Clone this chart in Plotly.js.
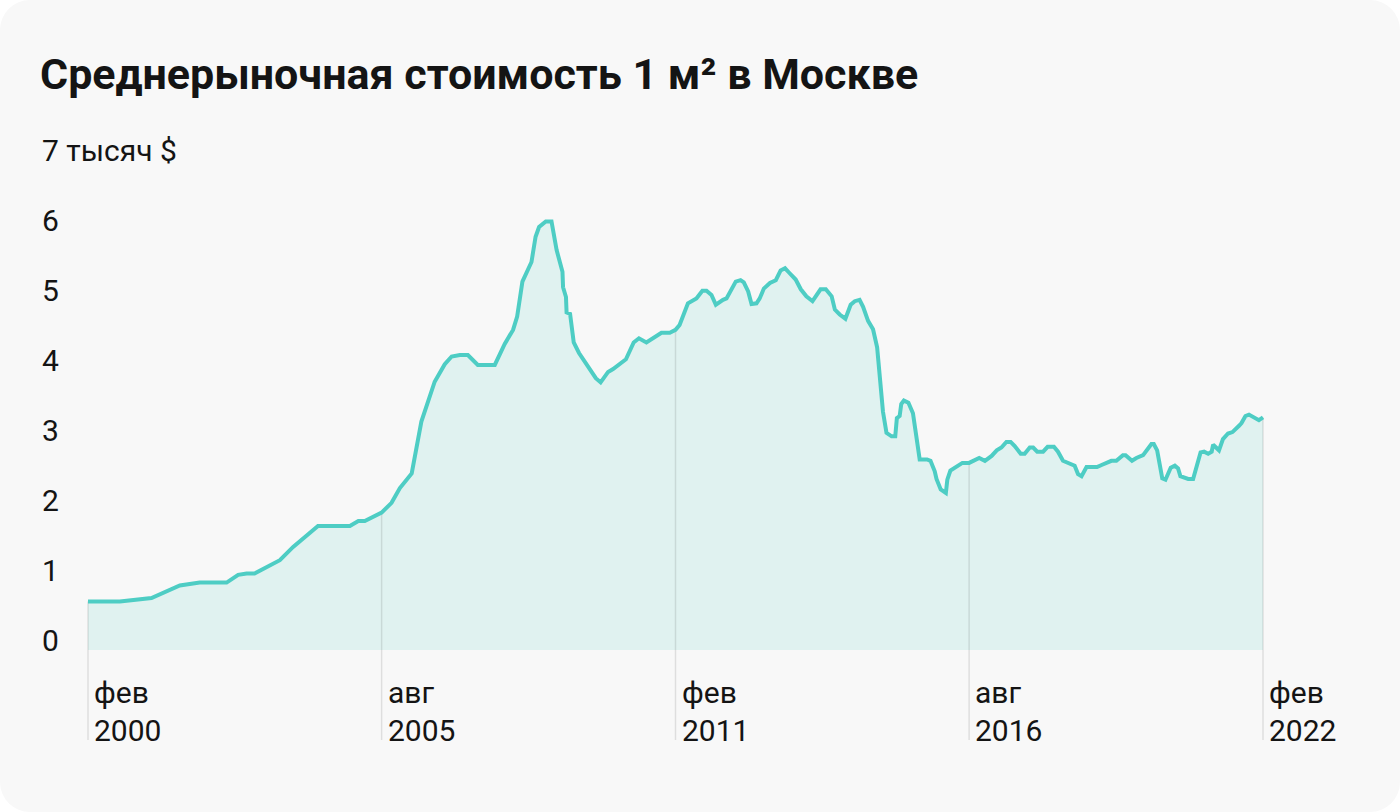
<!DOCTYPE html>
<html>
<head>
<meta charset="utf-8">
<script src="https://cdn.plot.ly/plotly-3.0.1.min.js"></script>
<style>
  html, body { margin: 0; padding: 0; background: #ffffff; }
  #card { width: 1400px; height: 812px; border-radius: 30px; overflow: hidden; background: #f8f8f8; }
  #chart { width: 1400px; height: 812px; }
</style>
</head>
<body>
<div id="card"><div id="chart"></div></div>
<script>
// ---- Data ----
const dates = [
  '2000-02-01','2000-09-06','2001-04-10','2001-10-21','2002-03-06','2002-09-06','2002-11-24','2003-01-21','2003-03-16','2003-09-05',
  '2003-12-05','2004-05-23','2004-12-27','2005-02-23','2005-04-08','2005-08-01','2005-10-08','2005-12-04','2006-02-23','2006-04-30',
  '2006-07-30','2006-10-07','2006-11-23','2007-01-18','2007-03-14','2007-05-21','2007-09-14','2007-11-21','2008-01-17','2008-02-14',
  '2008-03-21','2008-05-22','2008-06-19','2008-07-13','2008-08-28','2008-10-06','2008-11-10','2008-12-20','2008-12-24','2009-01-13',
  '2009-01-17','2009-02-10','2009-03-07','2009-04-12','2009-08-05','2009-09-07','2009-10-28','2009-12-01','2010-02-27','2010-04-21',
  '2010-05-27','2010-07-17','2010-10-28','2010-12-24','2011-02-01','2011-03-01','2011-04-27','2011-06-24','2011-08-04','2011-09-01',
  '2011-10-05','2011-11-04','2011-12-23','2012-01-16','2012-03-19','2012-04-21','2012-05-13','2012-06-12','2012-07-05','2012-08-08',
  '2012-08-30','2012-09-27','2012-11-08','2012-12-18','2013-01-20','2013-02-19','2013-03-18','2013-05-03','2013-06-07','2013-07-15',
  '2013-08-26','2013-10-20','2013-11-25','2014-01-04','2014-01-26','2014-02-28','2014-04-08','2014-05-14','2014-06-11','2014-07-14',
  '2014-08-07','2014-08-25','2014-09-10','2014-10-14','2014-11-11','2014-12-21','2015-01-14','2015-02-18','2015-03-15','2015-03-26',
  '2015-04-14','2015-04-25','2015-05-13','2015-06-13','2015-07-14','2015-08-29','2015-10-18','2015-11-11','2015-12-10','2015-12-22',
  '2016-01-20','2016-02-24','2016-03-05','2016-03-26','2016-06-16','2016-08-01','2016-10-09','2016-11-17','2017-01-02','2017-02-06',
  '2017-03-10','2017-04-13','2017-05-12','2017-06-09','2017-07-20','2017-08-16','2017-09-20','2017-10-13','2017-11-10','2017-12-20',
  '2018-01-20','2018-03-04','2018-04-01','2018-05-05','2018-07-24','2018-08-16','2018-09-09','2018-10-13','2018-12-24','2019-01-24',
  '2019-04-01','2019-05-05','2019-06-19','2019-07-07','2019-08-20','2019-09-19','2019-11-04','2019-12-31','2020-01-16','2020-02-08',
  '2020-03-14','2020-04-05','2020-05-11','2020-06-08','2020-06-30','2020-07-16','2020-09-07','2020-10-11','2020-12-01','2020-12-25',
  '2021-01-22','2021-02-15','2021-02-25','2021-04-06','2021-05-03','2021-06-07','2021-07-07','2021-08-21','2021-09-07','2021-10-04',
  '2021-10-28','2022-01-04','2022-02-01'
];
const values = [
  0.55,0.55,0.60,0.78,0.82,0.82,0.93,0.95,0.95,1.14,
  1.33,1.63,1.63,1.70,1.70,1.82,1.96,2.17,2.38,3.12,
  3.69,3.94,4.05,4.07,4.07,3.93,3.93,4.23,4.43,4.62,
  5.12,5.40,5.76,5.90,5.98,5.98,5.57,5.26,5.04,4.90,
  4.68,4.66,4.25,4.10,3.74,3.68,3.83,3.87,4.01,4.25,
  4.31,4.25,4.39,4.39,4.43,4.50,4.81,4.88,4.99,4.99,
  4.93,4.79,4.86,4.88,5.12,5.14,5.11,4.98,4.80,4.81,
  4.88,5.02,5.10,5.14,5.28,5.31,5.25,5.15,5.01,4.91,
  4.84,5.01,5.01,4.91,4.72,4.65,4.59,4.79,4.84,4.86,
  4.76,4.63,4.56,4.44,4.18,3.26,2.96,2.91,2.91,3.17,
  3.20,3.37,3.42,3.39,3.24,2.58,2.58,2.56,2.41,2.30,
  2.15,2.10,2.29,2.42,2.53,2.53,2.60,2.56,2.63,2.71,
  2.75,2.83,2.83,2.77,2.66,2.66,2.75,2.75,2.69,2.69,
  2.76,2.76,2.69,2.56,2.49,2.37,2.34,2.47,2.47,2.50,
  2.56,2.56,2.64,2.64,2.56,2.60,2.64,2.80,2.80,2.71,
  2.31,2.29,2.46,2.49,2.45,2.34,2.30,2.30,2.68,2.69,
  2.66,2.69,2.79,2.71,2.87,2.95,2.97,3.06,3.10,3.20,
  3.22,3.14,3.18
];
const tickDates  = ['2000-02-01','2005-08-01','2011-02-01','2016-08-01','2022-02-01'];
const tickMonths = ['фев','авг','фев','авг','фев'];
const tickYears  = ['2000','2005','2011','2016','2022'];
const yTickVals  = [0,1,2,3,4,5,6,7];
const yTickText  = ['0','1','2','3','4','5','6','7 тысяч $'];
const titleText  = 'Среднерыночная стоимость 1 м² в Москве';

// ---- Layout geometry (pixels) ----
const W = 1400, H = 812;
const M_TOP = 100, M_BOT = 50;
const X_ANCHOR_PX = [88, 1263];          // pixel positions of first/last tick dates
const Y_ZERO_PX = 640, PX_PER_UNIT = 70;  // y scale
const FILL_BASE = -10 / PX_PER_UNIT;      // area bottom sits 10px below zero
const DROP_BASE = -100 / PX_PER_UNIT;     // drop lines reach below the labels
const LABEL_X_PX = 40;
const LABEL_ROW1_PX = 692, LABEL_ROW2_PX = 730;

const t0 = Date.parse(tickDates[0] + 'T00:00:00Z');
const t1 = Date.parse(tickDates[tickDates.length - 1] + 'T00:00:00Z');
const msPerPx = (t1 - t0) / (X_ANCHOR_PX[1] - X_ANCHOR_PX[0]);
const xr0 = new Date(t0 - X_ANCHOR_PX[0] * msPerPx).toISOString();
const xr1 = new Date(t0 + (W - X_ANCHOR_PX[0]) * msPerPx).toISOString();
const yTop = (Y_ZERO_PX - M_TOP) / PX_PER_UNIT;
const yBot = (Y_ZERO_PX - (H - M_BOT)) / PX_PER_UNIT;
const plotH = H - M_TOP - M_BOT;

const LINE = '#4ecdc4';
const FILL = '#e0f2f0';
const DROP = 'rgba(0,0,0,0.10)';
const TEXT = '#141414';
const FONT = 'Roboto, "Noto Sans", sans-serif';
const LABEL_SIZE = 30;

const traces = [];
// baseline for the area
traces.push({
  x: dates, y: dates.map(() => FILL_BASE), type: 'scatter', mode: 'lines',
  line: {width: 0, color: 'rgba(0,0,0,0)'}, hoverinfo: 'skip', showlegend: false
});
// area
traces.push({
  x: dates, y: values, type: 'scatter', mode: 'lines', fill: 'tonexty',
  fillcolor: FILL, line: {width: 0, color: 'rgba(0,0,0,0)'}, hoverinfo: 'skip', showlegend: false
});
// drop lines at tick dates
tickDates.forEach(d => {
  const v = values[dates.indexOf(d)];
  traces.push({
    x: [d, d], y: [v, DROP_BASE], type: 'scatter', mode: 'lines',
    line: {width: 1.5, color: DROP}, hoverinfo: 'skip', showlegend: false
  });
});
// main line
traces.push({
  x: dates, y: values, type: 'scatter', mode: 'lines',
  line: {width: 4, color: LINE, shape: 'linear'}, showlegend: false,
  hovertemplate: '%{x|%b %Y}: %{y:.2f}<extra></extra>'
});

const annotations = [];
yTickVals.forEach((v, i) => {
  annotations.push({
    xref: 'paper', yref: 'y', x: LABEL_X_PX / W, y: v, xanchor: 'left', yanchor: 'middle',
    text: yTickText[i], showarrow: false, font: {family: FONT, size: LABEL_SIZE, color: TEXT}
  });
});
tickDates.forEach((d, i) => {
  annotations.push({
    xref: 'x', yref: 'paper', x: d, y: (H - M_BOT - LABEL_ROW1_PX) / plotH,
    xanchor: 'left', yanchor: 'middle', xshift: 4,
    text: tickMonths[i], showarrow: false, font: {family: FONT, size: LABEL_SIZE, color: TEXT}
  });
  annotations.push({
    xref: 'x', yref: 'paper', x: d, y: (H - M_BOT - LABEL_ROW2_PX) / plotH,
    xanchor: 'left', yanchor: 'middle', xshift: 4,
    text: tickYears[i], showarrow: false, font: {family: FONT, size: LABEL_SIZE, color: TEXT}
  });
});

const layout = {
  width: W, height: H,
  margin: {l: 0, r: 0, t: M_TOP, b: M_BOT, pad: 0},
  paper_bgcolor: 'rgba(0,0,0,0)', plot_bgcolor: 'rgba(0,0,0,0)',
  title: {
    text: '<b>' + titleText + '</b>', x: LABEL_X_PX / W, xref: 'container', xanchor: 'left',
    y: 1 - 74 / H, yref: 'container', yanchor: 'middle',
    font: {family: FONT, size: 43, color: TEXT}
  },
  xaxis: {type: 'date', range: [xr0, xr1], showgrid: false, zeroline: false, showline: false,
          showticklabels: false, ticks: '', fixedrange: true},
  yaxis: {range: [yBot, yTop], showgrid: false, zeroline: false, showline: false,
          showticklabels: false, ticks: '', fixedrange: true},
  annotations: annotations,
  showlegend: false,
  hovermode: 'closest'
};

Plotly.newPlot('chart', traces, layout, {displayModeBar: false});
</script>
</body>
</html>
